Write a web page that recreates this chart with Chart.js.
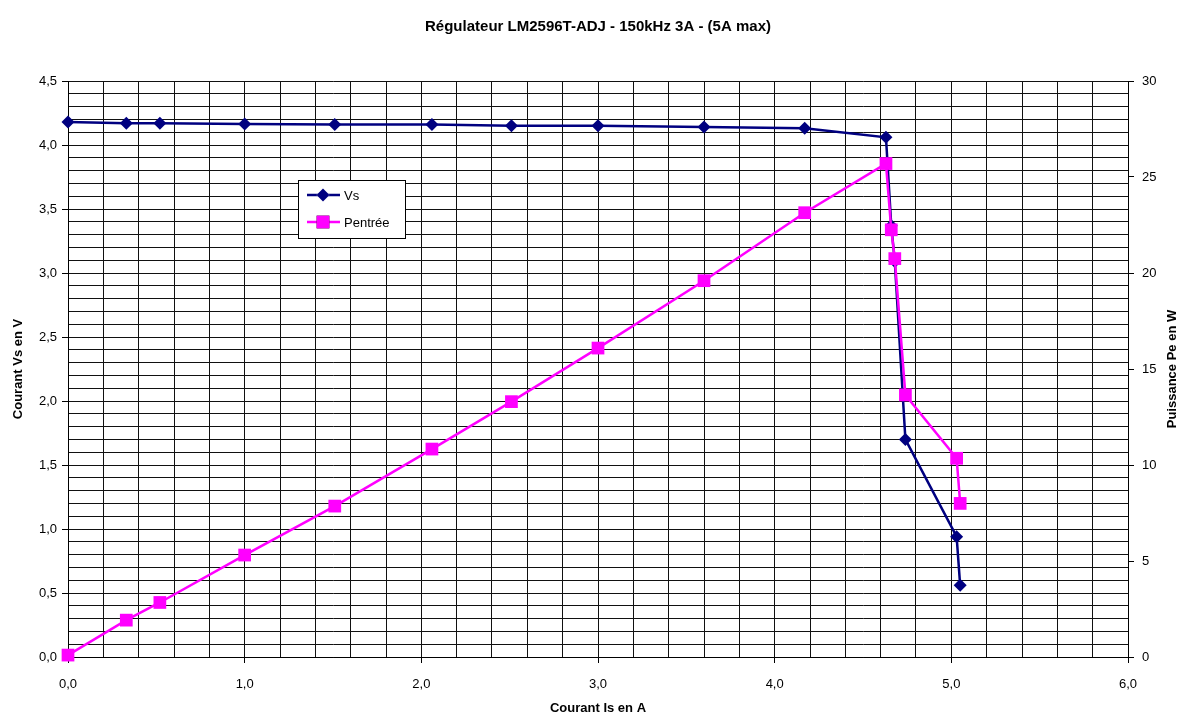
<!DOCTYPE html>
<html>
<head>
<meta charset="utf-8">
<script src="https://cdn.jsdelivr.net/npm/chart.js@4.4.1/dist/chart.umd.min.js"></script>
<style>
  body { margin: 0; background: #fff; }
  #wrap { width: 1185px; height: 718px; }
</style>
</head>
<body>
<div id="wrap"><canvas id="graphique" width="1185" height="718"></canvas></div>
<script>
// Données
const titre = 'Régulateur LM2596T-ADJ - 150kHz 3A - (5A max)';
const titreX = 'Courant Is en A';
const titreY = 'Courant Vs en V';
const titreY2 = 'Puissance Pe en W';

const courantIs = [0, 0.33, 0.52, 1.0, 1.51, 2.06, 2.51, 3.0, 3.6, 4.17, 4.63, 4.66, 4.68, 4.74, 5.03, 5.05];
const tensionVs = [4.18, 4.17, 4.17, 4.165, 4.16, 4.16, 4.15, 4.15, 4.14, 4.13, 4.06, 3.37, 3.09, 1.70, 0.94, 0.56];
const puissanceEntree = [0.1, 1.92, 2.84, 5.31, 7.86, 10.83, 13.3, 16.09, 19.6, 23.14, 25.7, 22.25, 20.75, 13.65, 10.35, 8.0];

const police = '"Liberation Sans", Arial, sans-serif';

function virgule(v) { return v.toFixed(1).replace('.', ','); }
function estMultiple(v, pas) { return Math.abs(v / pas - Math.round(v / pas)) < 1e-6; }

// Titre, titres d'axes et légende dessinés à la main
const decor = {
  id: 'decor',
  afterDraw(chart) {
    const ctx = chart.ctx;
    const a = chart.chartArea;
    ctx.save();
    ctx.fillStyle = '#000';
    ctx.textAlign = 'center';
    ctx.textBaseline = 'middle';
    ctx.font = 'bold 15px ' + police;
    ctx.fillText(titre, (a.left + a.right) / 2, 27);
    ctx.font = 'bold 13px ' + police;
    ctx.fillText(titreX, (a.left + a.right) / 2, 708);
    ctx.save();
    ctx.translate(18, (a.top + a.bottom) / 2);
    ctx.rotate(-Math.PI / 2);
    ctx.fillText(titreY, 0, 0);
    ctx.restore();
    ctx.save();
    ctx.translate(1172, (a.top + a.bottom) / 2);
    ctx.rotate(-Math.PI / 2);
    ctx.fillText(titreY2, 0, 0);
    ctx.restore();

    // légende
    ctx.fillStyle = '#fff';
    ctx.fillRect(298, 180, 107, 58);
    ctx.strokeStyle = '#000';
    ctx.lineWidth = 1;
    ctx.strokeRect(298.5, 180.5, 107, 58);
    const lignes = [chart.data.datasets[1], chart.data.datasets[0]];
    lignes.forEach((ds, i) => {
      const y = 195 + i * 27;
      ctx.strokeStyle = ds.borderColor;
      ctx.lineWidth = 2.5;
      ctx.beginPath();
      ctx.moveTo(307, y);
      ctx.lineTo(340, y);
      ctx.stroke();
      Chart.helpers.drawPoint(ctx, {
        pointStyle: ds.pointStyle, radius: ds.pointRadius, borderWidth: 0, rotation: 0
      }, 323, y);
      ctx.fillStyle = ds.backgroundColor;
      ctx.fill();
      ctx.fillStyle = '#000';
      ctx.textAlign = 'left';
      ctx.font = '13px ' + police;
      ctx.fillText(ds.label, 344, y + 1);
    });
    ctx.restore();
  }
};

const grilleCouleur = '#111';

new Chart(document.getElementById('graphique'), {
  type: 'line',
  data: {
    datasets: [
      {
        label: 'Pentrée',
        data: courantIs.map((x, i) => ({ x: x, y: puissanceEntree[i] })),
        yAxisID: 'y2',
        borderColor: '#ff00ff',
        backgroundColor: '#ff00ff',
        borderWidth: 2.5,
        pointStyle: 'rect',
        pointRadius: 9,
        pointBorderWidth: 0,
        tension: 0,
        clip: false,
        order: 0
      },
      {
        label: 'Vs',
        data: courantIs.map((x, i) => ({ x: x, y: tensionVs[i] })),
        yAxisID: 'y',
        borderColor: '#000080',
        backgroundColor: '#000080',
        borderWidth: 2.5,
        pointStyle: 'rectRot',
        pointRadius: 6.5,
        pointBorderWidth: 0,
        tension: 0,
        clip: false,
        order: 1
      }
    ]
  },
  options: {
    responsive: false,
    animation: false,
    layout: { padding: { top: 81, left: 0, right: 0, bottom: 0 } },
    plugins: {
      legend: { display: false },
      title: { display: false },
      tooltip: { enabled: false }
    },
    scales: {
      x: {
        type: 'linear',
        min: 0, max: 6,
        afterFit: s => { s.height = 61; },
        border: { display: true, color: '#000', width: 1 },
        grid: {
          color: grilleCouleur,
          lineWidth: 1,
          tickLength: 6,
          tickColor: c => estMultiple(c.tick.value, 1) ? '#000' : 'rgba(0,0,0,0)'
        },
        ticks: {
          stepSize: 0.2,
          autoSkip: false,
          maxRotation: 0,
          padding: 14,
          color: '#000',
          font: { family: police, size: 13 },
          callback: v => estMultiple(v, 1) ? virgule(v) : ''
        }
      },
      y: {
        position: 'left',
        min: 0, max: 4.5,
        afterFit: s => { s.width = 68; },
        border: { display: true, color: '#000', width: 1 },
        grid: {
          color: grilleCouleur,
          lineWidth: 1,
          tickLength: 6,
          tickColor: c => estMultiple(c.tick.value, 0.5) ? '#000' : 'rgba(0,0,0,0)'
        },
        ticks: {
          stepSize: 0.1,
          autoSkip: false,
          padding: 5,
          color: '#000',
          font: { family: police, size: 13 },
          callback: v => estMultiple(v, 0.5) ? virgule(v) : ''
        }
      },
      y2: {
        position: 'right',
        min: 0, max: 30,
        afterFit: s => { s.width = 57; },
        border: { display: true, color: '#000', width: 1 },
        grid: { drawOnChartArea: false, tickLength: 6, tickColor: '#000' },
        ticks: {
          stepSize: 5,
          padding: 8,
          color: '#000',
          font: { family: police, size: 13 }
        }
      }
    }
  },
  plugins: [decor]
});
</script>
</body>
</html>
